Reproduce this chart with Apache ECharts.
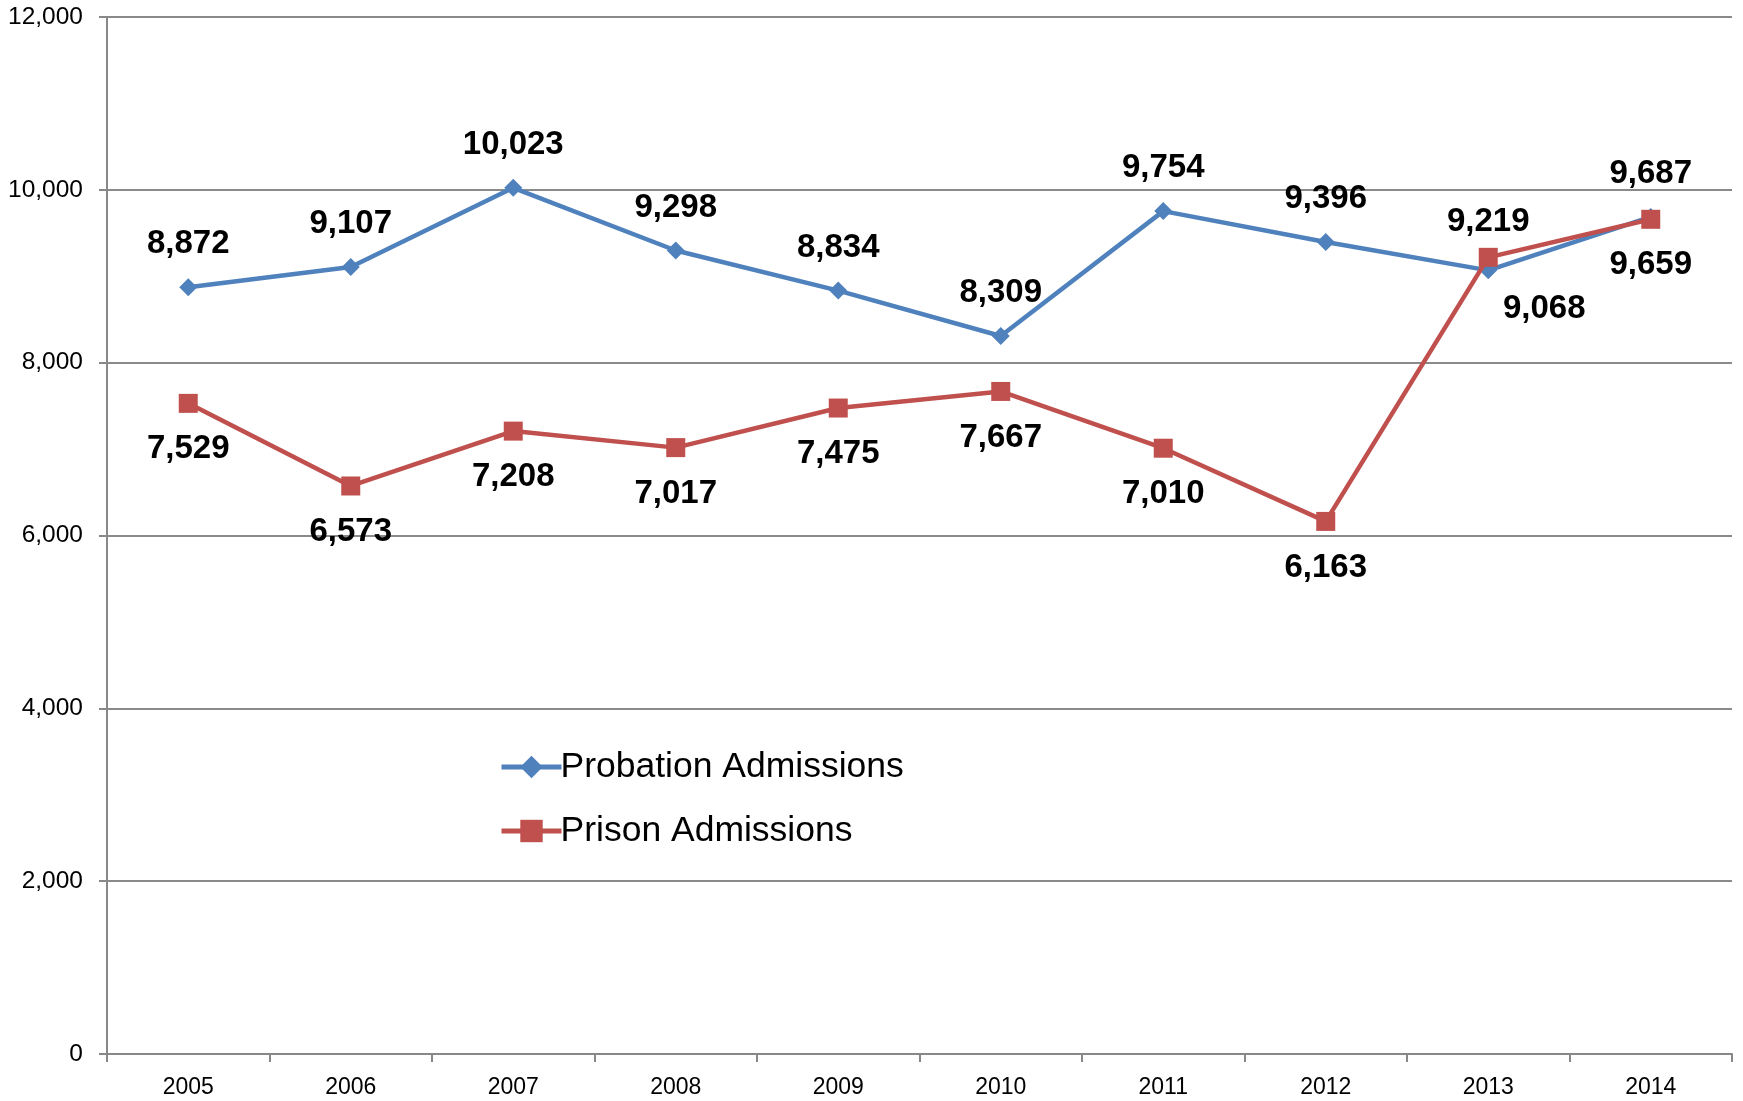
<!DOCTYPE html>
<html><head><meta charset="utf-8">
<script src="https://cdn.jsdelivr.net/npm/echarts@6/dist/echarts.min.js"></script>
<style>html,body{margin:0;padding:0;background:#fff}#c{width:1743px;height:1101px}</style>
</head><body><div id="c"></div>
<script>
const years = ['2005','2006','2007','2008','2009','2010','2011','2012','2013','2014'];
const probation = [8872, 9107, 10023, 9298, 8834, 8309, 9754, 9396, 9068, 9687];
const prison = [7529, 6573, 7208, 7017, 7475, 7667, 7010, 6163, 9219, 9659];
const yTicks = [0, 2000, 4000, 6000, 8000, 10000, 12000];

// label offsets (style only)
const probOffsets = years.map((y,i) => i === 8 ? [56, 39] : [0, -43]);
const prisOffsets = years.map((y,i) => i === 8 ? [0, -35] : [0, 46]);

const fmt = v => v.toLocaleString('en-US');
const labelStyle = {show:true, position:'inside', fontFamily:'Liberation Sans, Arial, sans-serif', fontWeight:'bold', fontSize:33, color:'#000'};

const chart = echarts.init(document.getElementById('c'));
chart.setOption({
  animation:false,
  backgroundColor:'#fff',
  grid:{left:107, right:11, top:17, bottom:47},
  legend:{
    orient:'vertical', left:494, top:744, itemWidth:60, itemHeight:28, itemGap:28,
    lineStyle:{width:5},
    textStyle:{fontFamily:'Liberation Sans, Arial, sans-serif', fontSize:35.5, color:'#000', padding:[0,0,0,-6]},
    data:['Probation Admissions','Prison Admissions']
  },
  xAxis:{
    type:'category', data:years, boundaryGap:true,
    axisLine:{lineStyle:{color:'#888', width:2}},
    axisTick:{show:true, length:8, lineStyle:{color:'#888', width:2}},
    axisLabel:{fontFamily:'Liberation Sans, Arial, sans-serif', fontSize:23, color:'#000', margin:22}
  },
  yAxis:{
    type:'value', min:yTicks[0], max:yTicks[yTicks.length-1], interval:yTicks[1]-yTicks[0],
    axisLine:{show:true, lineStyle:{color:'#888', width:2}},
    axisTick:{show:true, length:8, lineStyle:{color:'#888', width:2}},
    splitLine:{lineStyle:{color:'#8a8a8a', width:2}},
    axisLabel:{fontFamily:'Liberation Sans, Arial, sans-serif', fontSize:24.5, color:'#000', margin:24,
      formatter: v => fmt(v)}
  },
  series:[
    {
      name:'Probation Admissions', type:'line', symbol:'diamond', symbolSize:[18,18],
      lineStyle:{color:'#4F81BD', width:4.5}, itemStyle:{color:'#4F81BD'},
      data: probation.map((v,i)=>({value:v, label:Object.assign({}, labelStyle, {offset:probOffsets[i]})})),
      label:Object.assign({}, labelStyle, {formatter: p => fmt(p.value)}),
      z:2
    },
    {
      name:'Prison Admissions', type:'line', symbol:'rect', symbolSize:[19,19],
      lineStyle:{color:'#C0504D', width:4.5}, itemStyle:{color:'#C0504D'},
      data: prison.map((v,i)=>({value:v, label:Object.assign({}, labelStyle, {offset:prisOffsets[i]})})),
      label:Object.assign({}, labelStyle, {formatter: p => fmt(p.value)}),
      z:3
    }
  ]
});
</script></body></html>
